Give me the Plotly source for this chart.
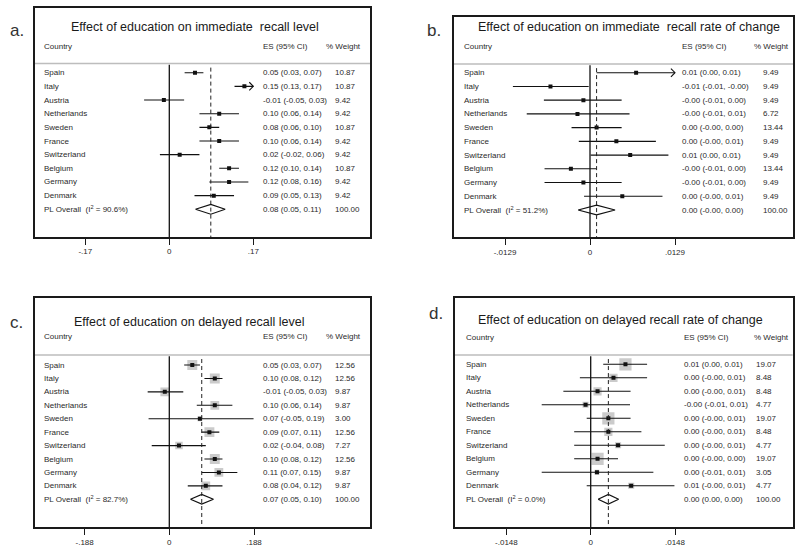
import math
import plotly.graph_objects as go

W, H = 800, 553

countries = ["Spain", "Italy", "Austria", "Netherlands", "Sweden", "France",
             "Switzerland", "Belgium", "Germany", "Denmark"]

# ---- panel a: immediate recall level ----
a_es = [0.052, 0.152, -0.011, 0.101, 0.081, 0.101, 0.021, 0.121, 0.121, 0.090]
a_lo = [0.031, 0.132, -0.051, 0.061, 0.061, 0.061, -0.019, 0.101, 0.081, 0.051]
a_hi = [0.069, 0.172, 0.030, 0.141, 0.101, 0.141, 0.061, 0.141, 0.160, 0.131]
a_w = [10.87, 10.87, 9.42, 9.42, 10.87, 9.42, 9.42, 10.87, 9.42, 9.42]
a_overall = [0.084, 0.053, 0.113]
a_i2 = "90.6%"
a_ticks = [-0.17, 0, 0.17]
a_ticktext = ["-.17", "0", ".17"]

# ---- panel b: immediate recall rate of change ----
b_es = [0.0070, -0.0060, -0.0010, -0.0019, 0.0010, 0.0040, 0.0061, -0.0029, -0.0010, 0.0049]
b_lo = [0.0010, -0.0117, -0.0070, -0.0096, -0.0028, -0.0017, 0.0001, -0.0069, -0.0069, -0.0009]
b_hi = [0.0135, -0.0002, 0.0048, 0.0060, 0.0048, 0.0100, 0.0119, 0.0010, 0.0048, 0.0110]
b_w = [9.49, 9.49, 9.49, 6.72, 13.44, 9.49, 9.49, 13.44, 9.49, 9.49]
b_overall = [0.0010, -0.0018, 0.0038]
b_i2 = "51.2%"
b_ticks = [-0.0129, 0, 0.0129]
b_ticktext = ["-.0129", "0", ".0129"]

# ---- panel c: delayed recall level ----
c_es = [0.051, 0.101, -0.010, 0.101, 0.068, 0.089, 0.0215, 0.101, 0.110, 0.081]
c_lo = [0.033, 0.078, -0.048, 0.061, -0.046, 0.072, -0.039, 0.078, 0.072, 0.041]
c_hi = [0.068, 0.118, 0.031, 0.140, 0.187, 0.111, 0.081, 0.118, 0.151, 0.118]
c_w = [12.56, 12.56, 9.87, 9.87, 3.00, 12.56, 7.27, 12.56, 9.87, 9.87]
c_overall = [0.072, 0.047, 0.098]
c_i2 = "82.7%"
c_ticks = [-0.188, 0, 0.188]
c_ticktext = ["-.188", "0", ".188"]

# ---- panel d: delayed recall rate of change ----
d_es = [0.0061, 0.0040, 0.0012, -0.0009, 0.0031, 0.0031, 0.0048, 0.0012, 0.0011, 0.0071]
d_lo = [0.0022, -0.0019, -0.0048, -0.0086, -0.0007, -0.0029, -0.0029, -0.0029, -0.0086, -0.0007]
d_hi = [0.0099, 0.0099, 0.0070, 0.0069, 0.0070, 0.0089, 0.0130, 0.0048, 0.0110, 0.0147]
d_w = [19.07, 8.48, 8.48, 4.77, 19.07, 8.48, 4.77, 19.07, 3.05, 4.77]
d_overall = [0.0031, 0.0013, 0.0049]
d_i2 = "0.0%"
d_ticks = [-0.0148, 0, 0.0148]
d_ticktext = ["-.0148", "0", ".0148"]

titles = ["Effect of education on immediate  recall level",
          "Effect of education on immediate  recall rate of change",
          "Effect of education on delayed recall level",
          "Effect of education on delayed recall rate of change"]
letters = ["a.", "b.", "c.", "d."]

# ---- layout geometry (pixels) ----
geoms = [
    dict(L=35, R=370, T=7.5, B=237, zero=169.3, tickpx=253.3, row0=72.7, dr=13.66,
         title_x=69, title_y=27, head_y=47, sep_y=63.5, cx=41.5, esx=260.5, wx=333,
         whx=324, lx=8, ly=30, boxes=False),
    dict(L=454, R=793, T=17, B=237.3, zero=590, tickpx=675, row0=72.7, dr=13.73,
         title_x=476, title_y=27, head_y=47, sep_y=64, cx=462, esx=680, wx=760.5,
         whx=752, lx=425, ly=30, boxes=False),
    dict(L=35, R=370, T=298.3, B=527.3, zero=169.3, tickpx=254, row0=365, dr=13.43,
         title_x=72, title_y=322, head_y=336.7, sep_y=355, cx=41.5, esx=260.5, wx=333,
         whx=324, lx=8, ly=322, boxes=True),
    dict(L=455, R=792.7, T=298.3, B=527.3, zero=590.7, tickpx=675, row0=364.3, dr=13.5,
         title_x=476, title_y=320, head_y=337.3, sep_y=355, cx=464, esx=681.5, wx=754,
         whx=751.5, lx=427, ly=313, boxes=True),
]

panels = [
    (a_es, a_lo, a_hi, a_w, a_overall, a_i2, a_ticks, a_ticktext),
    (b_es, b_lo, b_hi, b_w, b_overall, b_i2, b_ticks, b_ticktext),
    (c_es, c_lo, c_hi, c_w, c_overall, c_i2, c_ticks, c_ticktext),
    (d_es, d_lo, d_hi, d_w, d_overall, d_i2, d_ticks, d_ticktext),
]

FONT = "Liberation Sans, Arial, sans-serif"
TXT = "#2a2a2a"


def fx(px):
    return px / W


def fy(py):
    return 1 - py / H


def fmt(v):
    return f"{v:.2f}"


fig = go.Figure()
layout = dict(width=W, height=H, margin=dict(l=0, r=0, t=0, b=0),
              paper_bgcolor="white", plot_bgcolor="white", showlegend=False,
              font=dict(family=FONT, color=TXT))
annotations = []
shapes = []

for i, (g, p) in enumerate(zip(geoms, panels)):
    es, lo, hi, w, ov, i2, ticks, ticktext = p
    n = i + 1
    xn = "x" if n == 1 else f"x{n}"
    yn = "y" if n == 1 else f"y{n}"
    xa = "xaxis" if n == 1 else f"xaxis{n}"
    ya = "yaxis" if n == 1 else f"yaxis{n}"

    s = (g["tickpx"] - g["zero"]) / ticks[2]
    xr = [(g["L"] - g["zero"]) / s, (g["R"] - g["zero"]) / s]
    yr = [(g["B"] - g["row0"]) / g["dr"], (g["T"] - g["row0"]) / g["dr"]]
    sep_row = (g["sep_y"] - g["row0"]) / g["dr"]
    clip_lo, clip_hi = ticks[0], ticks[2]

    layout[xa] = dict(domain=[fx(g["L"]), fx(g["R"])], range=xr, anchor=yn,
                      showgrid=False, zeroline=False, showline=True, mirror=True,
                      linecolor="#1a1a1a", linewidth=1.6, ticks="outside", ticklen=6,
                      tickwidth=1.2, tickcolor="#1a1a1a", tickvals=ticks,
                      ticktext=ticktext, tickfont=dict(size=8, color=TXT))
    layout[ya] = dict(domain=[fy(g["B"]), fy(g["T"])], range=yr, anchor=xn,
                      showgrid=False, zeroline=False, showline=True, mirror=True,
                      linecolor="#1a1a1a", linewidth=1.6, showticklabels=False,
                      ticks="")

    rows = list(range(len(countries)))

    # separator, zero line, pooled dashed line
    shapes.append(dict(type="line", xref=f"{xn} domain", yref=yn, x0=0, x1=1,
                       y0=sep_row, y1=sep_row, line=dict(color="#bdbdbd", width=1.6)))
    shapes.append(dict(type="line", xref=xn, yref=yn, x0=0, x1=0, y0=sep_row + 0.1,
                       y1=yr[0], line=dict(color="#111", width=1.3)))
    shapes.append(dict(type="line", xref=xn, yref=yn, x0=ov[0], x1=ov[0],
                       y0=sep_row + 0.3, y1=yr[0],
                       line=dict(color="#222", width=1, dash="4px,3px")))

    if g["boxes"]:
        fig.add_trace(go.Scatter(x=es, y=rows, mode="markers", xaxis=xn, yaxis=yn,
                                 marker=dict(symbol="square", color="#b5b5b5",
                                             size=[2.8 * math.sqrt(v) for v in w],
                                             line=dict(width=0)),
                                 hoverinfo="skip"))

    cx, cy = [], []
    arrows_x, arrows_y = [], []
    for r, l_, h_ in zip(rows, lo, hi):
        cx += [max(l_, clip_lo), min(h_, clip_hi), None]
        cy += [r, r, None]
        if h_ > clip_hi:
            d = (xr[1] - xr[0]) * 0.012
            arrows_x += [clip_hi - d, clip_hi, clip_hi - d, None]
            arrows_y += [r - 0.3, r, r + 0.3, None]
    fig.add_trace(go.Scatter(x=cx, y=cy, mode="lines", xaxis=xn, yaxis=yn,
                             line=dict(color="#111", width=1.1), hoverinfo="skip"))
    if arrows_x:
        fig.add_trace(go.Scatter(x=arrows_x, y=arrows_y, mode="lines", xaxis=xn,
                                 yaxis=yn, line=dict(color="#111", width=1.1),
                                 hoverinfo="skip"))
    fig.add_trace(go.Scatter(x=es, y=rows, mode="markers", xaxis=xn, yaxis=yn,
                             marker=dict(symbol="square", color="#111", size=4),
                             hoverinfo="skip"))

    # overall diamond
    orow = len(countries)
    hgt = 0.36
    fig.add_trace(go.Scatter(x=[ov[1], ov[0], ov[2], ov[0], ov[1]],
                             y=[orow, orow - hgt, orow, orow + hgt, orow],
                             mode="lines", xaxis=xn, yaxis=yn,
                             line=dict(color="#111", width=1.2), hoverinfo="skip"))

    # texts
    annotations.append(dict(text=letters[i], x=fx(g["lx"]), y=fy(g["ly"]), xref="paper",
                            yref="paper", xanchor="left", yanchor="middle",
                            showarrow=False, font=dict(size=17, color="#333")))
    annotations.append(dict(text=titles[i], x=fx(g["title_x"]), y=fy(g["title_y"]),
                            xref="paper", yref="paper", xanchor="left", yanchor="middle",
                            showarrow=False, font=dict(size=12.5, color="#1a1a1a")))
    for txt, xp in [("Country", g["cx"]), ("ES (95% CI)", g["esx"]), ("% Weight", g["whx"])]:
        annotations.append(dict(text=txt, x=fx(xp), y=fy(g["head_y"]), xref="paper",
                                yref="paper", xanchor="left", yanchor="middle",
                                showarrow=False, font=dict(size=8, color=TXT)))
    labels = countries + [f"PL Overall  (I<sup>2</sup> = {i2})"]
    es_txt = [f"{fmt(e)} ({fmt(l_)}, {fmt(h_)})" for e, l_, h_ in zip(es, lo, hi)]
    es_txt.append(f"{fmt(ov[0])} ({fmt(ov[1])}, {fmt(ov[2])})")
    w_txt = [f"{v:.2f}" for v in w] + [f"{100:.2f}"]
    for r in range(len(labels)):
        for txt, xp in [(labels[r], g["cx"]), (es_txt[r], g["esx"]), (w_txt[r], g["wx"])]:
            annotations.append(dict(text=txt, x=fx(xp), y=r, xref="paper", yref=yn,
                                    xanchor="left", yanchor="middle", showarrow=False,
                                    font=dict(size=8, color=TXT)))

layout["annotations"] = annotations
layout["shapes"] = shapes
fig.update_layout(**layout)
fig.write_html("out.html", config={"displayModeBar": False},
               post_script="document.body.style.margin='0px';")
